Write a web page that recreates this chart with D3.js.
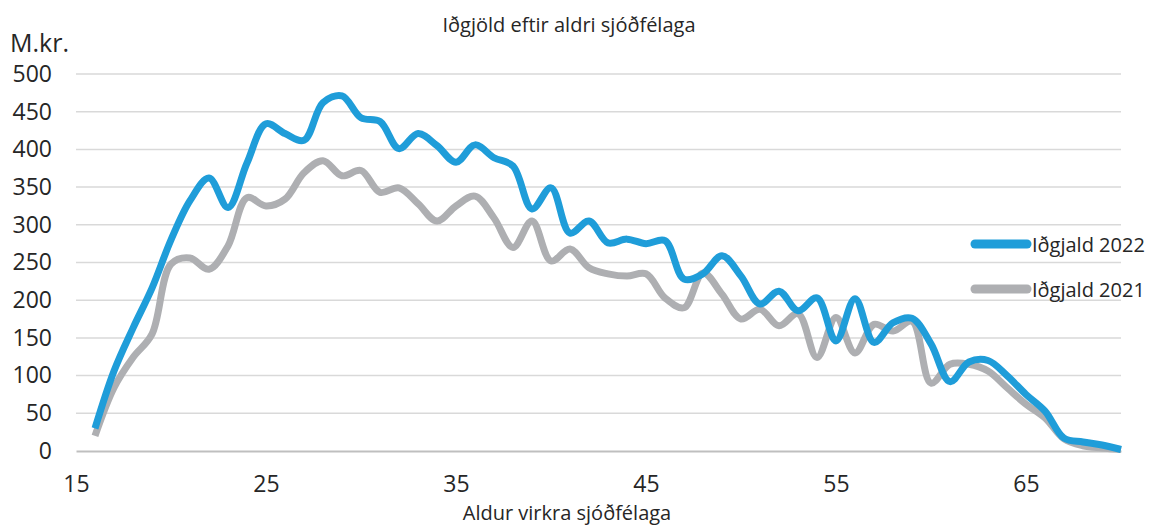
<!DOCTYPE html>
<html>
<head>
<meta charset="utf-8">
<script src="https://cdn.jsdelivr.net/npm/d3@7"></script>
<style>
  body { margin: 0; background: #fff; }
  svg { display: block; font-family: 'Open Sans', sans-serif; }
</style>
</head>
<body>
<svg id="chart"></svg>
<script>
// ages 16..70
const ages = d3.range(16, 71);

const idgjald2022 = [
  30, 106, 163, 216, 280, 332, 362, 323, 382, 434,
  421, 412, 462, 471, 442, 437, 401, 421, 405, 383,
  406, 389, 378, 321, 349, 289, 305, 276, 281, 275,
  279, 228, 235, 259, 232, 195, 212, 186, 203, 146,
  202, 144, 170, 176, 142, 92, 118, 120, 100, 75,
  53, 17, 12, 8, 2
];

const idgjald2021 = [
  20, 84, 124, 155, 248, 256, 241, 272, 336, 325,
  334, 369, 385, 365, 372, 343, 349, 328, 305, 325,
  338, 309, 270, 305, 252, 268, 243, 235, 232, 235,
  203, 190, 236, 208, 175, 188, 166, 182, 124, 177,
  130, 168, 159, 172, 90, 115, 115, 106, 84, 62,
  44, 16, 7, 4, 2
];

const series = [
  { name: 'Iðgjald 2022', values: idgjald2022, color: '#1F9DD9' },
  { name: 'Iðgjald 2021', values: idgjald2021, color: '#AEAFB2' }
];

const xTicks = [15, 25, 35, 45, 55, 65];
const yTicks = d3.range(0, 501, 50);

const width = 1156;
const height = 527;
const marginLeft = 76;
const marginRight = 35;
const marginTop = 74;
const marginBottom = 76;

const x = d3.scaleLinear()
  .domain([15, 70])
  .range([marginLeft, width - marginRight]);

const y = d3.scaleLinear()
  .domain([0, 500])
  .range([height - marginBottom, marginTop]);

const svg = d3.select('#chart')
  .attr('width', width)
  .attr('height', height)
  .attr('viewBox', [0, 0, width, height]);

// gridlines
svg.append('g')
  .attr('stroke', '#D9D9D9')
  .attr('stroke-width', 1.5)
  .selectAll()
  .data(yTicks.filter((d) => d > 0))
  .join('line')
  .attr('x1', x(15))
  .attr('x2', x(70))
  .attr('y1', (d) => y(d))
  .attr('y2', (d) => y(d));

// y axis labels
const gAxisLeft = svg.append('g')
  .attr('transform', `translate(${marginLeft},0)`)
  .call(d3.axisLeft(y).tickValues(yTicks).tickSize(0).tickPadding(24))
  .call((g) => g.select('.domain').remove());

gAxisLeft.selectAll('text')
  .attr('fill', '#262626')
  .attr('font-size', 23)
  .attr('font-family', 'Open Sans, sans-serif');

// x axis
const gAxisBottom = svg.append('g')
  .attr('transform', `translate(0,${y(0)})`)
  .call(d3.axisBottom(x).tickValues(xTicks).tickSize(0).tickPadding(25));

gAxisBottom.select('.domain').attr('stroke', '#BFBFBF').attr('stroke-width', 2);
gAxisBottom.selectAll('text')
  .attr('fill', '#262626')
  .attr('font-size', 23)
  .attr('font-family', 'Open Sans, sans-serif');

// lines
const line = d3.line()
  .x((d, i) => x(ages[i]))
  .y((d) => y(d))
  .curve(d3.curveCatmullRom.alpha(0.5));

svg.append('g')
  .selectAll()
  .data(series.slice().reverse())
  .join('path')
  .attr('fill', 'none')
  .attr('stroke', (d) => d.color)
  .attr('stroke-width', 7)
  .attr('stroke-linejoin', 'round')
  .attr('d', (d) => line(d.values));

// title and axis labels
svg.append('text')
  .attr('x', 569)
  .attr('y', 32)
  .attr('text-anchor', 'middle')
  .attr('font-size', 20)
  .attr('fill', '#262626')
  .text('Iðgjöld eftir aldri sjóðfélaga');

svg.append('text')
  .attr('x', 10)
  .attr('y', 52)
  .attr('font-size', 25)
  .attr('fill', '#262626')
  .text('M.kr.');

svg.append('text')
  .attr('x', 567)
  .attr('y', 520)
  .attr('text-anchor', 'middle')
  .attr('font-size', 20)
  .attr('fill', '#262626')
  .text('Aldur virkra sjóðfélaga');

// legend
const legend = svg.append('g')
  .selectAll()
  .data(series)
  .join('g')
  .attr('transform', (d, i) => `translate(975,${244 + i * 45})`);

legend.append('line')
  .attr('x1', 0)
  .attr('x2', 52)
  .attr('stroke', (d) => d.color)
  .attr('stroke-width', 9)
  .attr('stroke-linecap', 'round');

legend.append('text')
  .attr('x', 57)
  .attr('y', 8)
  .attr('font-size', 20)
  .attr('fill', '#262626')
  .text((d) => d.name);
</script>
</body>
</html>
